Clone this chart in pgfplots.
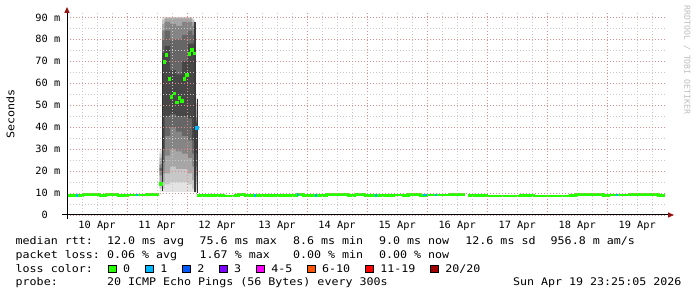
\documentclass[border=0pt]{standalone}
\usepackage{pgfplots}
\pgfplotsset{compat=1.18}
\usepackage{fontspec}
\newfontfamily\legfont[FakeStretch=1.11]{DejaVu Sans Mono}
\newfontfamily\axfont[FakeStretch=1.03]{DejaVu Sans Mono}
\newfontfamily\wmfont{DejaVu Sans Mono}
\newcommand\LF{\legfont\fontsize{10.5}{12.6}\selectfont}
\newcommand\AF{\axfont\fontsize{10}{12}\selectfont}
\definecolor{lgreen}{HTML}{26FF00}
\definecolor{lcyan}{HTML}{00B8FF}
\definecolor{lblue}{HTML}{0059FF}
\definecolor{lviolet}{HTML}{7E00FF}
\definecolor{lmag}{HTML}{FF00FF}
\definecolor{lorange}{HTML}{FF5500}
\definecolor{lred}{HTML}{FF0000}
\definecolor{ldred}{HTML}{A10000}
\definecolor{mgrid}{RGB}{222,140,140}
\definecolor{ngrid}{RGB}{200,200,200}
\definecolor{arrowred}{RGB}{150,20,20}
\definecolor{wm}{RGB}{190,190,190}
\newcommand\lossbox[3]{%
  \draw[fill=#2, line width=0.8pt] (#1pt,24.2pt) rectangle ++(7.6pt,7.6pt);
  \node[anchor=base west, inner sep=0pt, font=\LF] at (#1pt+14.5pt,24.3pt) {#3};
}
\begin{document}
\begin{tikzpicture}
\fill[white] (0,0) rectangle (697pt,297pt);
\begin{axis}[
  at={(67pt,82pt)}, anchor=south west,
  scale only axis, width=599pt, height=202pt,
  xmin=0, xmax=9.98, ymin=0, ymax=92,
  axis line style={draw=none},
  axis on top,
  major tick length=0pt, minor tick length=0pt,
  tick style={draw=none},
  xtick={0,1,...,9}, xticklabels={},
  minor xtick={0.25,0.5,0.75,1.25,1.5,1.75,2.25,2.5,2.75,3.25,3.5,3.75,4.25,4.5,4.75,5.25,5.5,5.75,6.25,6.5,6.75,7.25,7.5,7.75,8.25,8.5,8.75,9.25,9.5,9.75},
  extra x ticks={0.5,1.5,2.5,3.5,4.5,5.5,6.5,7.5,8.5,9.5},
  extra x tick labels={10 Apr,11 Apr,12 Apr,13 Apr,14 Apr,15 Apr,16 Apr,17 Apr,18 Apr,19 Apr},
  extra x tick style={grid=none},
  xticklabel style={font=\AF, anchor=north, inner sep=0pt, yshift=-5.6pt},
  ytick={0,10,...,90},
  minor ytick={5,15,...,85},
  yticklabels={0\phantom{00},10 m,20 m,30 m,40 m,50 m,60 m,70 m,80 m,90 m},
  yticklabel style={font=\AF, anchor=east, inner sep=0pt, xshift=-6.5pt},
  grid=both,
  major grid style={draw=mgrid, line width=0.8pt, dash pattern=on 1pt off 2pt},
  minor grid style={draw=ngrid, line width=0.8pt, dash pattern=on 1pt off 2pt},
]
% smoke layers (ping spread), lightest = outermost
\addplot[fill=black!11, draw=none, forget plot] coordinates {(1.542,30)(1.583,30)(1.583,90.2)(2.083,90.2)(2.083,89.5)(2.122,89.5)(2.122,53.5)(2.175,53.5)(2.175,10.2)(2.122,10.2)(2.122,10.5)(1.542,10.5)} -- cycle;
\addplot[fill=black!22, draw=none, forget plot] coordinates {(1.542,28)(1.583,28)(1.583,89)(1.625,89)(1.625,90)(2.083,90)(2.083,89)(2.122,89)(2.122,51)(2.175,51)(2.175,11)(2.122,11)(2.122,12)(2.083,12)(2.083,14)(2.017,14)(2.017,15)(1.717,15)(1.717,14)(1.625,14)(1.625,12)(1.542,12)} -- cycle;
\addplot[fill=black!35, draw=none, forget plot] coordinates {(1.542,26)(1.583,26)(1.583,87)(1.625,87)(1.625,89.5)(2.083,89.5)(2.083,88)(2.122,88)(2.122,48)(2.175,48)(2.175,14)(2.122,14)(2.122,16)(2.083,16)(2.083,19)(2.017,19)(2.017,21)(1.817,21)(1.817,22)(1.717,22)(1.717,19)(1.625,19)(1.625,15)(1.542,15)} -- cycle;
\addplot[fill=black!48, draw=none, forget plot] coordinates {(1.542,23)(1.583,23)(1.583,84)(1.625,84)(1.625,88)(1.717,88)(1.717,87)(1.817,87)(1.817,86)(1.917,86)(1.917,88)(2.083,88)(2.083,86)(2.122,86)(2.122,45)(2.175,45)(2.175,18)(2.122,18)(2.122,22)(2.083,22)(2.083,26)(2.017,26)(2.017,28)(1.917,28)(1.917,29)(1.817,29)(1.817,30)(1.717,30)(1.717,27)(1.625,27)(1.625,19)(1.583,19)(1.583,18)(1.542,18)} -- cycle;
\addplot[fill=black!60, draw=none, forget plot] coordinates {(1.542,21.5)(1.583,21.5)(1.583,80)(1.625,80)(1.625,84)(1.717,84)(1.717,80)(1.917,80)(1.917,82)(2.017,82)(2.017,84)(2.083,84)(2.083,82)(2.122,82)(2.122,43)(2.175,43)(2.175,22)(2.122,22)(2.122,28)(2.083,28)(2.083,34)(2.017,34)(2.017,36)(1.917,36)(1.917,38)(1.817,38)(1.817,40)(1.717,40)(1.717,36)(1.625,36)(1.625,24)(1.583,24)(1.583,20)(1.542,20)} -- cycle;
\addplot[fill=black!72, draw=none, forget plot] coordinates {(1.583,74)(1.625,74)(1.625,77)(1.717,77)(1.717,66)(1.817,66)(1.817,64)(1.917,64)(1.917,70)(2.017,70)(2.017,78)(2.122,78)(2.122,42)(2.175,42)(2.175,28)(2.122,28)(2.122,34)(2.083,34)(2.083,44)(2.017,44)(2.017,45)(1.817,45)(1.817,46)(1.717,46)(1.717,45)(1.625,45)(1.625,30)(1.583,30)} -- cycle;
\addplot[fill=black!82, draw=none, forget plot] coordinates {(1.583,11)(1.583,70)(1.604,70)(1.604,11)} -- cycle;
\addplot[fill=black!77, draw=none, forget plot] coordinates {(2.122,10.6)(2.122,88)(2.15,88)(2.15,10.6)} -- cycle;
\addplot[fill=black!80, draw=none, forget plot] coordinates {(2.172,10.2)(2.172,53)(2.19,53)(2.19,10.2)} -- cycle;
% median rtt, 0 loss
\addplot[const plot, draw=lgreen, line width=2.7pt] coordinates {(0,8.8)(0.267,9.2)(0.55,9.0)(0.65,9.2)(0.85,8.9)(1.017,9.1)(1.333,9.3)(1.535,9.3)};
\addplot[const plot, draw=lgreen, line width=2.7pt] coordinates {(2.17,9.0)(2.438,9.0)(2.605,8.7)(2.8,9.0)(2.855,9.3)(2.967,9.0)(3.828,9.3)(3.938,9.0)(4.022,8.9)(4.328,9.2)(4.688,8.9)(4.8,9.3)(4.967,8.9)(5.438,9.1)(5.605,8.9)(5.688,9.2)(5.883,9.0)(5.995,9.1)(6.383,9.3)(6.633,9.3)};
\addplot[const plot, draw=lgreen, line width=2.7pt] coordinates {(6.688,9.0)(6.995,8.7)(7.55,8.9)(7.772,8.7)(8.05,8.6)(8.383,8.9)(8.467,9.3)(8.938,9.0)(9.022,9.1)(9.383,9.3)(9.855,9.0)(9.967,9.0)};
% 1 loss
\addplot[draw=lcyan, line width=2.7pt] coordinates {(0.147,8.8)(0.187,8.8)};
\addplot[draw=lcyan, line width=2.7pt] coordinates {(1.147,9.1)(1.187,9.1)};
\addplot[draw=lcyan, line width=2.7pt] coordinates {(3.113,9.0)(3.153,9.0)};
\addplot[draw=lcyan, line width=2.7pt] coordinates {(3.83,9.3)(3.87,9.3)};
\addplot[draw=lcyan, line width=2.7pt] coordinates {(4.13,8.9)(4.17,8.9)};
\addplot[draw=lcyan, line width=2.7pt] coordinates {(5.13,8.9)(5.17,8.9)};
\addplot[draw=lcyan, line width=2.7pt] coordinates {(5.937,9.1)(5.997,9.1)};
\addplot[draw=lcyan, line width=2.7pt] coordinates {(6.13,9.1)(6.17,9.1)};
\addplot[draw=lcyan, line width=2.7pt] coordinates {(9.147,9.1)(9.187,9.1)};
% medians during the spike
\addplot[only marks, color=lgreen, mark=square*, mark size=1.4pt, mark options={fill=lgreen, draw=lgreen, line width=0.1pt}] coordinates {(1.562,14.5)(1.617,70)(1.650,73)(1.700,62)(1.733,54)(1.783,55.5)(1.822,51.4)(1.867,53.6)(1.905,52)(1.950,62)(1.988,64)(2.033,73.6)(2.072,75.5)(2.117,73.8)};
\addplot[only marks, color=lcyan, mark=square*, mark size=1.4pt, mark options={fill=lcyan, draw=lcyan, line width=0.1pt}] coordinates {(2.16,40)};
\end{axis}
% axis lines and arrows
\draw[black, line width=1pt] (62.3pt,82pt) -- (668pt,82pt);
\fill[arrowred] (668pt,79.3pt) -- (674pt,82pt) -- (668pt,84.7pt) -- cycle;
\draw[black, line width=1pt] (67pt,78pt) -- (67pt,284pt);
\fill[arrowred] (64.3pt,284pt) -- (67pt,290pt) -- (69.7pt,284pt) -- cycle;
% y label
\node[rotate=90, inner sep=0pt, font=\LF] at (10.5pt,183pt) {Seconds};
% watermark
\node[rotate=-90, inner sep=0pt, text=wm, font=\wmfont\fontsize{8.2}{9}\selectfont] at (687pt,237pt) {RRDTOOL / TOBI OETIKER};
% legend
\node[anchor=base west, inner sep=0pt, font=\LF] at (15.5pt,52.7pt) {median rtt:};
\node[anchor=base west, inner sep=0pt, font=\LF] at (106.8pt,52.7pt) {12.0 ms avg};
\node[anchor=base west, inner sep=0pt, font=\LF] at (199.5pt,52.7pt) {75.6 ms max};
\node[anchor=base west, inner sep=0pt, font=\LF] at (292.8pt,52.7pt) {8.6 ms min};
\node[anchor=base west, inner sep=0pt, font=\LF] at (378.8pt,52.7pt) {9.0 ms now};
\node[anchor=base west, inner sep=0pt, font=\LF] at (465.2pt,52.7pt) {12.6 ms sd};
\node[anchor=base west, inner sep=0pt, font=\LF] at (550.5pt,52.7pt) {956.8 m am/s};
\node[anchor=base west, inner sep=0pt, font=\LF] at (15.5pt,38.7pt) {packet loss:};
\node[anchor=base west, inner sep=0pt, font=\LF] at (106.8pt,38.7pt) {0.06 \% avg};
\node[anchor=base west, inner sep=0pt, font=\LF] at (199.5pt,38.7pt) {1.67 \% max};
\node[anchor=base west, inner sep=0pt, font=\LF] at (292.8pt,38.7pt) {0.00 \% min};
\node[anchor=base west, inner sep=0pt, font=\LF] at (378.8pt,38.7pt) {0.00 \% now};
\node[anchor=base west, inner sep=0pt, font=\LF] at (15.5pt,24.3pt) {loss color:};
\lossbox{108.3}{lgreen}{0}
\lossbox{145.7}{lcyan}{1}
\lossbox{182.7}{lblue}{2}
\lossbox{219.3}{lviolet}{3}
\lossbox{256.7}{lmag}{4-5}
\lossbox{307.3}{lorange}{6-10}
\lossbox{365.7}{lred}{11-19}
\lossbox{430.7}{ldred}{20/20}
\node[anchor=base west, inner sep=0pt, font=\LF] at (15.5pt,11pt) {probe:};
\node[anchor=base west, inner sep=0pt, font=\LF] at (106.8pt,11pt) {20 ICMP Echo Pings (56 Bytes) every 300s};
\node[anchor=base west, inner sep=0pt, font=\LF] at (512.8pt,11pt) {Sun Apr 19 23:25:05 2026};
\pgfresetboundingbox
\path[use as bounding box] (0,0) rectangle (697pt,297pt);
\end{tikzpicture}
\end{document}
